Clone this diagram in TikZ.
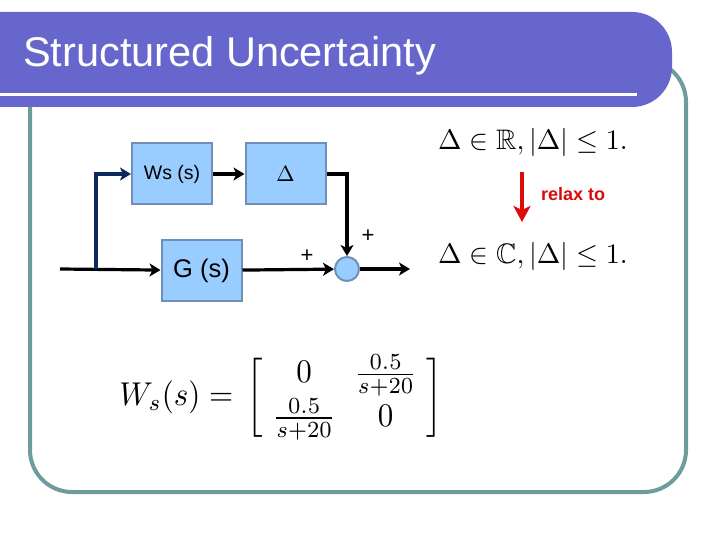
\documentclass[tikz,border=0pt]{standalone}
\usepackage{amsmath,amssymb}
\usepackage[no-math]{fontspec}
\newfontfamily\arial{Liberation Sans}
\usetikzlibrary{positioning,calc,arrows.meta}
\definecolor{banner}{HTML}{6666CC}
\definecolor{frame}{HTML}{6E9C9C}
\definecolor{boxfill}{HTML}{99CCFF}
\definecolor{boxrule}{HTML}{6F8FB8}
\definecolor{navy}{HTML}{0B2A5C}
\definecolor{relax}{HTML}{DD0A0A}

\tikzset{
  blk/.style={draw=boxrule,fill=boxfill,line width=2pt,minimum width=80pt,
    minimum height=61pt,inner sep=0pt},
  sumc/.style={circle,draw=boxrule,fill=boxfill,line width=2pt,
    minimum size=24pt,inner sep=0pt},
  sig/.style={line width=3.2pt,-{Stealth[length=11pt,width=13pt,inset=3pt]}},
  sign/.style={font=\arial\fontsize{22}{24}\selectfont,inner sep=0pt},
}

\begin{document}
\begin{tikzpicture}[x=1pt,y=-1pt]
  \useasboundingbox (0,0) rectangle (720,540);
  \fill[white] (0,0) rectangle (720,540);

  % ---------------------------------------------------------------- FRAME
  \draw[frame,line width=4pt,rounded corners=42pt] (30,60) rectangle (686,492);

  % ---------------------------------------------------------------- TITLE BAND
  \fill[banner,rounded corners=40pt] (-60,12) rectangle (672,107);
  \draw[white,line width=3pt] (-5,95) -- (637,95);
  \node[anchor=west,inner sep=0pt,text=white] (title) at (23,56)
    {\arial\fontsize{41.5}{44}\selectfont Structured Uncertainty};

  % ---------------------------------------------------------------- BLOCK DIAGRAM
  \node[blk] (ws) at (172,174) {\arial\fontsize{19.5}{21}\selectfont Ws (s)};
  \node[blk] (delta) at (285.5,174) {\scalebox{2.2}{$\Delta$}};
  \node[blk] (gs) at (201.5,270.5) {\arial\fontsize{25.5}{27}\selectfont G (s)};
  \node[sumc] (sum) at (347,269) {};
  \coordinate (in) at (60,269);
  \coordinate (br) at (96,269);
  \coordinate (out) at (410,269);

  \draw[sig] (in) -- (gs);
  \draw[sig,navy] (br) |- (ws);
  \draw[sig] (ws) -- (delta);
  \draw[sig] (delta) -| (sum);
  \draw[sig] (gs) -- (sum);
  \draw[sig] (sum) -- (out);
  \node[sign] (plusg) at (307,256) {+};
  \node[sign] (plusd) at (368,236) {+};

  % ---------------------------------------------------------------- RELAXATION
  \node[inner sep=0pt] (realset) at (533,142)
    {\scalebox{2.82}{$\Delta\in\mathbb{R},|\Delta|\leq 1.$}};
  \node[inner sep=0pt] (cplxset) at (533,256)
    {\scalebox{2.82}{$\Delta\in\mathbb{C},|\Delta|\leq 1.$}};
  \coordinate (rtop) at (522,172);
  \coordinate (rbot) at (522,222);
  \draw[relax,line width=4pt,-{Stealth[length=16pt,width=17pt,inset=4pt]}] (rtop) -- (rbot);
  \node[anchor=west,inner sep=0pt,text=relax] (relaxto) at (541,194)
    {\arial\bfseries\fontsize{18}{20}\selectfont relax to};

  % ---------------------------------------------------------------- WEIGHT MATRIX
  \node[inner sep=0pt] (wmat) at (281,397.5) {\scalebox{3.1}[3.3]{%
    \setlength{\arraycolsep}{3pt}%
    $W_s(s) =\,\left[\begin{array}{cc}
      0 & \frac{0.5}{s+20}\\[1.2pt]
      \frac{0.5}{s+20} & 0
    \end{array}\right]$}};

\end{tikzpicture}
\end{document}
